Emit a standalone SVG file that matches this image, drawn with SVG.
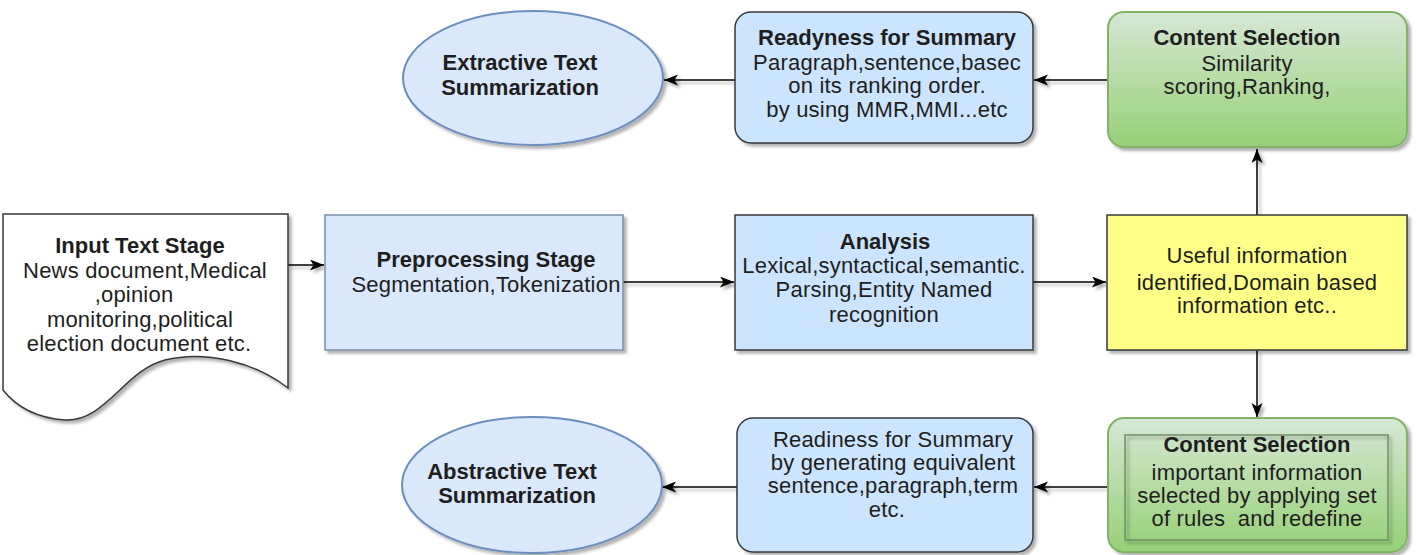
<svg xmlns="http://www.w3.org/2000/svg" width="1416" height="555" viewBox="0 0 1416 555">
<style>
text{font-family:"Liberation Sans",Arial,sans-serif;font-size:22px;fill:#1e1e1e;text-anchor:middle}
.b{font-weight:bold}
.r{letter-spacing:0.2px}
.pale{fill:#dae8fc;stroke:#7a8fa8;stroke-width:1.5}
.blue{fill:#cce5ff;stroke:#36393d;stroke-width:1.5}
.ell{fill:#dae8fc;stroke:#6c8ebf;stroke-width:2}
.yel{fill:#ffff88;stroke:#36393d;stroke-width:1.5}
.grn{fill:url(#g);stroke:#82b366;stroke-width:2}
.doc{fill:#ffffff;stroke:#36393d;stroke-width:1.5}
.sh{filter:url(#s)}
.c{stroke:#000;stroke-width:1.5;fill:none;marker-end:url(#a)}
</style>
<defs>
<linearGradient id="g" x1="0" y1="0" x2="0" y2="1">
<stop offset="0" stop-color="#d5e8d4"/>
<stop offset="1" stop-color="#97d077"/>
</linearGradient>
<filter id="s" x="-10%" y="-10%" width="130%" height="130%">
<feDropShadow dx="3" dy="3" stdDeviation="1.5" flood-color="#000" flood-opacity="0.3"/>
</filter>
<marker id="a" markerWidth="15" markerHeight="12" refX="14" refY="5.5" orient="auto" markerUnits="userSpaceOnUse">
<path d="M0,0 L14,5.5 L0,11 L3.5,5.5 Z" fill="#000"/>
</marker>
</defs>

<g id="connectors" class="sh">
<line class="c" x1="288" y1="265" x2="324" y2="265"/>
<line class="c" x1="623" y1="282" x2="734" y2="282"/>
<line class="c" x1="1033" y1="282" x2="1106" y2="282"/>
<line class="c" x1="1257" y1="215" x2="1257" y2="149"/>
<line class="c" x1="1257" y1="350" x2="1257" y2="417"/>
<line class="c" x1="1108" y1="80" x2="1034" y2="80"/>
<line class="c" x1="735" y1="80" x2="664" y2="80"/>
<line class="c" x1="1108" y1="487" x2="1034" y2="487"/>
<line class="c" x1="737" y1="487" x2="662" y2="487"/>
</g>

<g id="input">
<path class="doc sh" d="M3,214 L288,214 L288,388 C255,362 205,350 165,360 C125,370 105,422 65,420 C35,418 15,405 3,390 Z"/>
<text class="b" x="140" y="253">Input Text Stage</text>
<text class="r" x="145" y="278">News document,Medical</text>
<text class="r" x="134" y="302">,opinion</text>
<text class="r" x="140" y="327">monitoring,political</text>
<text class="r" x="139" y="351">election document etc.</text>
</g>

<g id="preprocessing">
<rect class="pale sh" x="325" y="215" width="298" height="135"/>
<text class="b" x="486" y="267">Preprocessing Stage</text>
<text class="r" x="486" y="292">Segmentation,Tokenization</text>
</g>

<g id="analysis">
<rect class="blue sh" x="735" y="215" width="298" height="135"/>
<text class="b" x="885" y="249">Analysis</text>
<text class="r" x="884" y="273">Lexical,syntactical,semantic.</text>
<text class="r" x="884" y="297">Parsing,Entity Named</text>
<text class="r" x="884" y="322">recognition</text>
</g>

<g id="useful">
<rect class="yel sh" x="1107" y="215" width="300" height="135"/>
<text class="r" x="1257" y="263">Useful information</text>
<text class="r" x="1257" y="290">identified,Domain based</text>
<text class="r" x="1257" y="313">information etc..</text>
</g>

<g id="content-top">
<rect class="grn sh" x="1108" y="12" width="299" height="135" rx="16"/>
<text class="b" x="1247" y="45">Content Selection</text>
<text class="r" x="1247" y="71">Similarity</text>
<text class="r" x="1247" y="94">scoring,Ranking,</text>
</g>

<g id="readyness-top">
<rect class="blue sh" x="735" y="12" width="298" height="131" rx="16"/>
<text class="b" x="887" y="45">Readyness for Summary</text>
<text class="r" x="887" y="70">Paragraph,sentence,basec</text>
<text class="r" x="887" y="93">on its ranking order.</text>
<text class="r" x="887" y="117">by using MMR,MMI...etc</text>
</g>

<g id="extractive">
<ellipse class="ell sh" cx="533" cy="78" rx="130" ry="67"/>
<text class="b" x="520" y="70">Extractive Text</text>
<text class="b" x="520" y="95">Summarization</text>
</g>

<g id="content-bottom">
<rect class="grn sh" x="1108" y="418" width="299" height="134" rx="16"/>
<rect x="1125" y="435" width="263" height="105" fill="none" stroke="#6f8f63" stroke-width="1.5" class="sh"/>
<text class="b" x="1257" y="452">Content Selection</text>
<text class="r" x="1257" y="480">important information</text>
<text class="r" x="1257" y="503">selected by applying set</text>
<text class="r" x="1257" y="526" xml:space="preserve" style="white-space:pre">of rules  and redefine</text>
</g>

<g id="readiness-bottom">
<rect class="blue sh" x="737" y="418" width="296" height="134" rx="16"/>
<text class="r" x="893" y="447">Readiness for Summary</text>
<text class="r" x="893" y="470">by generating equivalent</text>
<text class="r" x="893" y="493">sentence,paragraph,term</text>
<text class="r" x="887" y="517">etc.</text>
</g>

<g id="abstractive">
<ellipse class="ell sh" cx="532" cy="485" rx="130" ry="68"/>
<text class="b" x="512" y="479">Abstractive Text</text>
<text class="b" x="517" y="503">Summarization</text>
</g>
</svg>
